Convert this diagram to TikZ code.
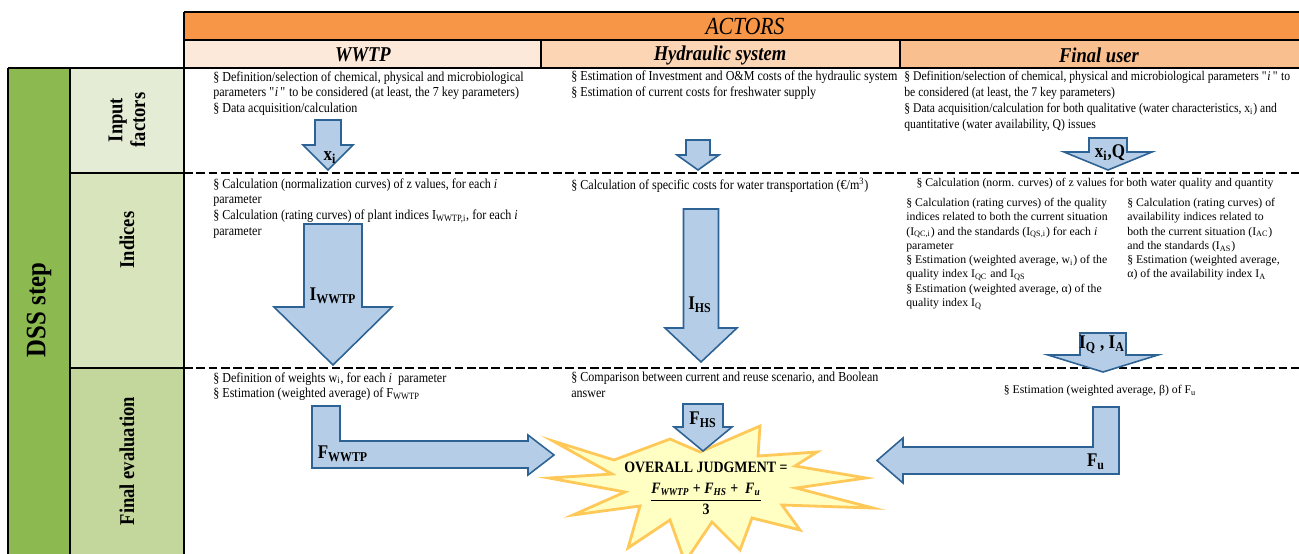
\documentclass[tikz,border=0pt]{standalone}
\usepackage{amsmath}
\usepackage{fontspec}
\setmainfont{Liberation Serif}[FakeStretch=0.88]
\newfontfamily\plainserif{Liberation Serif}
\definecolor{DSSgreen}{HTML}{8CB950}
\definecolor{DSSinput}{HTML}{E4ECD6}
\definecolor{DSSindex}{HTML}{D7E4BC}
\definecolor{DSSfinal}{HTML}{C3D69B}
\definecolor{ACTorange}{HTML}{F79646}
\definecolor{ACTwwtp}{HTML}{FDE9D9}
\definecolor{ACThyd}{HTML}{FCD5B4}
\definecolor{ACTuser}{HTML}{FABF8F}
\definecolor{ARRfill}{HTML}{B5CDE6}
\definecolor{ARRedge}{HTML}{2D6394}
\definecolor{STARfill}{HTML}{FFFFC4}
\definecolor{STARedge}{HTML}{FFC95A}
% down-pointing block arrow: name, x, top, shoulder, tip, shaft half, head half
\newcommand{\downblock}[7]{%
    \draw[blockarrow] (#2-#6, #3) -- (#2+#6, #3) -- (#2+#6, #4) -- (#2+#7, #4)
        -- (#2, #5) -- (#2-#7, #4) -- (#2-#6, #4) -- cycle;
    \coordinate (#1-tip) at (#2, #5);
}
\newcommand{\qi}{\textquotedbl\textit{i}\,\textquotedbl}

\begin{document}
\begin{tikzpicture}[
    x=0.02cm, y=-0.02cm,
    gridline/.style={line width=1.4pt, black},
    rowsep/.style={line width=1.1pt, black, dash pattern=on 5pt off 2pt},
    blockarrow/.style={draw=ARRedge, line width=0.9pt, fill=ARRfill, line join=miter},
    hdrlabel/.style={font=\bfseries\itshape\fontsize{12}{14}\selectfont, inner sep=0pt},
    sidelabel/.style={font=\bfseries\fontsize{12}{13}\selectfont, rotate=90,
                      align=center, inner sep=0pt},
    bodytext/.style={font=\fontsize{7.8}{9.1}\selectfont, anchor=north west,
                     align=left, inner sep=0pt},
    subtext/.style={font=\plainserif\fontsize{6.7}{8.1}\selectfont, anchor=north west,
                    align=left, inner sep=0pt},
    arrowlabel/.style={font=\bfseries\fontsize{11}{12}\selectfont, inner sep=0pt},
    startext/.style={font=\bfseries\fontsize{9}{11}\selectfont, inner sep=0pt},
]
\useasboundingbox (0,0) rectangle (1299,554);

% --- Header fills ---
\fill[ACTorange] (184,12) rectangle (1299,40);
\fill[ACTwwtp]   (184,40) rectangle (541,68);
\fill[ACThyd]    (541,40) rectangle (900,68);
\fill[ACTuser]   (900,40) rectangle (1299,68);

% --- DSS step column fills ---
\fill[DSSgreen] (8,68)   rectangle (70,554);
\fill[DSSinput] (70,68)  rectangle (184,173);
\fill[DSSindex] (70,173) rectangle (184,368);
\fill[DSSfinal] (70,368) rectangle (184,554);

% --- Grid ---
\draw[gridline] (184,12) -- (1299,12);
\draw[gridline] (184,40) -- (1299,40);
\draw[gridline] (8,68) -- (1299,68);
\draw[gridline] (184,12) -- (184,554);
\draw[gridline] (541,40) -- (541,68);
\draw[gridline] (900,40) -- (900,68);
\draw[gridline] (8,68) -- (8,554);
\draw[gridline] (70,68) -- (70,554);
\foreach \ry in {173, 368} {
    \draw[gridline] (70,\ry) -- (184,\ry);
    \draw[rowsep] (184,\ry) -- (1299,\ry);
}

% --- Header labels ---
\node[font=\itshape\fontsize{14}{16}\selectfont, inner sep=0pt] (actors) at (745,26) {ACTORS};
\node[hdrlabel] (hwwtp) at (363,55) {WWTP};
\node[hdrlabel] (hhyd)  at (720,55) {Hydraulic system};
\node[hdrlabel] (huser) at (1099,55) {Final user};

\node[sidelabel, font=\bfseries\fontsize{16}{18}\selectfont] (dss) at (39,310) {DSS step};
\node[sidelabel] (sinput) at (127,120) {Input\\factors};
\node[sidelabel] (sindex) at (127,240) {Indices};
\node[sidelabel] (sfinal) at (127,461) {Final evaluation};

% --- Input factors ---
\node[bodytext] (wwtpin) at (213,71) {%
    § Definition/selection of chemical, physical and microbiological\\
    parameters \qi{} to be considered (at least, the 7 key parameters)\\
    § Data acquisition/calculation};
\node[bodytext] (hydin) at (571,71) {%
    § Estimation of Investment and O\&M costs of the hydraulic system\\
    § Estimation of current costs for freshwater supply};
\node[bodytext, font=\fontsize{7.55}{9.1}\selectfont] (userin) at (904,71) {%
    § Definition/selection of chemical, physical and microbiological parameters \qi{} to\\
    be considered (at least, the 7 key parameters)\\
    § Data acquisition/calculation for both qualitative (water characteristics, x\textsubscript{i}) and\\
    quantitative (water availability, Q) issues};

\downblock{axi}{328}{120}{145}{170}{13}{25}
\downblock{ahyd}{698}{140}{155}{170}{12}{21}
\downblock{axq}{1108}{138}{152}{170}{19}{44}
\node[arrowlabel] (lxi) at (330,158) {x\textsubscript{i}};
\node[arrowlabel] (lxq) at (1110,153) {x\textsubscript{i},Q};

% --- Indices ---
\node[bodytext] (wwtpix) at (213,178) {%
    § Calculation (normalization curves) of z values, for each \textit{i}\\
    parameter\\
    § Calculation (rating curves) of plant indices I\textsubscript{WWTP,i}, for each \textit{i}\\
    parameter};
\node[bodytext] (hydix) at (571,178) {%
    § Calculation of specific costs for water transportation (€/m\textsuperscript{3})};
\node[subtext, anchor=center] (userix) at (1095,184) {%
    § Calculation (norm. curves) of z values for both water quality and quantity};
\node[subtext] (userixq) at (906,198) {%
    § Calculation (rating curves) of the quality\\
    indices related to both the current situation\\
    (I\textsubscript{QC,i}) and the standards (I\textsubscript{QS,i}) for each \textit{i}\\
    parameter\\
    § Estimation (weighted average, w\textsubscript{i}) of the\\
    quality index I\textsubscript{QC} and I\textsubscript{QS}\\
    § Estimation (weighted average, α) of the\\
    quality index I\textsubscript{Q}};
\node[subtext] (userixa) at (1127,198) {%
    § Calculation (rating curves) of\\
    availability indices related to\\
    both the current situation (I\textsubscript{AC})\\
    and the standards (I\textsubscript{AS})\\
    § Estimation (weighted average,\\
    α) of the availability index I\textsubscript{A}};

\downblock{aiw}{333}{224}{307}{365}{29}{59}
\downblock{aih}{701}{209}{328}{362}{17.5}{36}
\downblock{aiu}{1103}{333}{355}{372}{23}{55}
\node[arrowlabel] (liw) at (333,296) {I\textsubscript{WWTP}};
\node[arrowlabel] (lih) at (700,305) {I\textsubscript{HS}};
\node[arrowlabel] (liu) at (1102,345) {I\textsubscript{Q} , I\textsubscript{A}};

% --- Final evaluation ---
\node[bodytext] (wwtpfe) at (213,372) {%
    § Definition of weights w\textsubscript{i}, for each \textit{i}~ parameter\\
    § Estimation (weighted average) of F\textsubscript{WWTP}};
\node[bodytext] (hydfe) at (571,372) {%
    § Comparison between current and reuse scenario, and Boolean\\
    answer};
\node[subtext, anchor=center] (userfe) at (1100,391) {%
    § Estimation (weighted average, β) of F\textsubscript{u}};

% overall judgment star
\draw[fill=STARfill, draw=STARedge, line width=1.6pt, line join=miter]
    (553,441) -- (614,460) -- (670,439) -- (700,452) -- (760,426) -- (758,456)
    -- (817,452) -- (795,466) -- (866,478) -- (796,488) -- (873,508) -- (782,505)
    -- (800,530) -- (752,518) -- (740,550) -- (712,522) -- (685,562) -- (670,520)
    -- (628,548) -- (640,506) -- (573,515) -- (625,492) -- (549,478) -- (612,474)
    -- cycle;
\node[startext] (judge) at (706,467) {OVERALL JUDGMENT =};
\node[startext] (formula) at (706,499) {$\dfrac{\mbox{\bfseries\itshape F\textsubscript{WWTP}
    \upshape+ \itshape F\textsubscript{HS} \upshape+~ \itshape F\textsubscript{u}}}{\mbox{\bfseries 3}}$};

\draw[blockarrow] (312,406) -- (340,406) -- (340,441) -- (528,441) -- (528,435)
    -- (554,455) -- (528,475) -- (528,468) -- (312,468) -- cycle;
\draw[blockarrow] (1093,407) -- (1119,407) -- (1119,474) -- (903,474) -- (903,483)
    -- (877,460.5) -- (903,438) -- (903,447) -- (1093,447) -- cycle;
\downblock{afh}{703}{404}{427}{451}{20}{29}
\node[arrowlabel] (lfw) at (343,454) {F\textsubscript{WWTP}};
\node[arrowlabel] (lfu) at (1096,462) {F\textsubscript{u}};
\node[arrowlabel] (lfh) at (703,420) {F\textsubscript{HS}};

\end{tikzpicture}
\end{document}
